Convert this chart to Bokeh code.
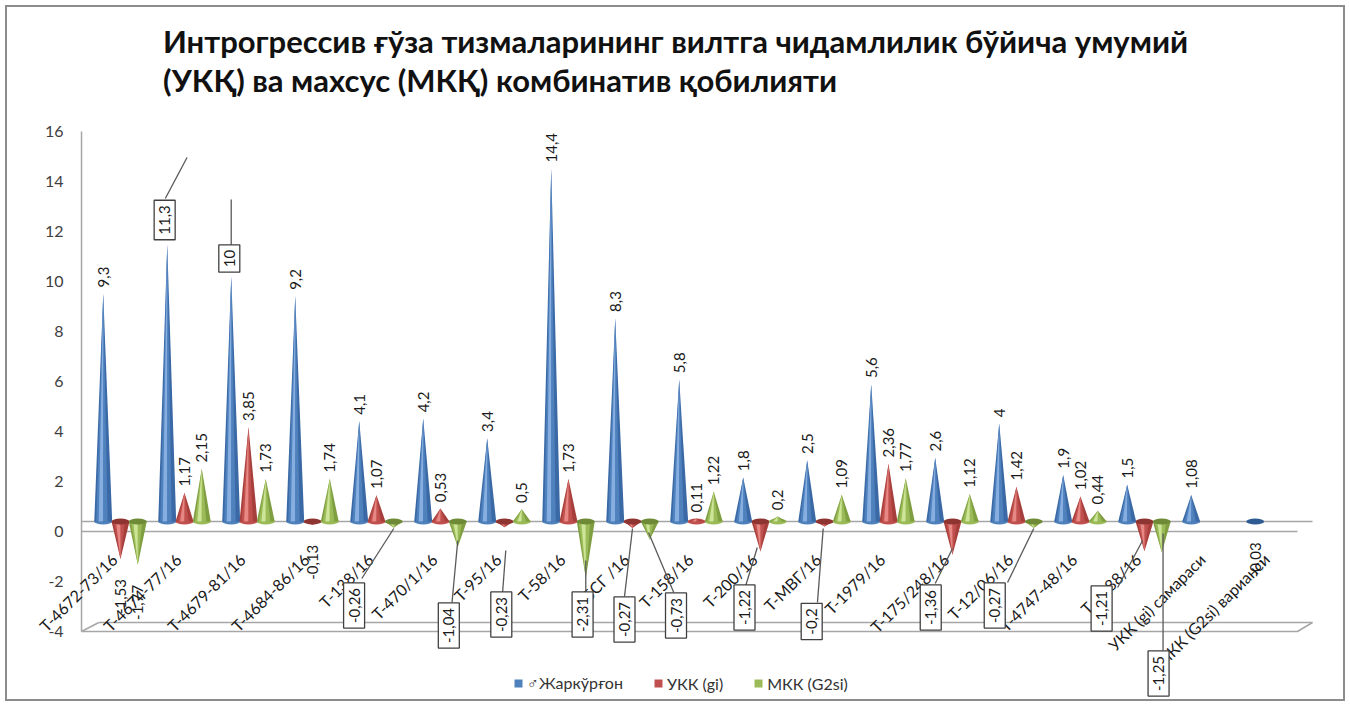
import math

from bokeh.core.properties import value
from bokeh.embed import file_html
from bokeh.models import Legend, LegendItem, Range1d
from bokeh.plotting import figure
from bokeh.resources import INLINE

# ---------------------------------------------------------------- data
categories = [
    "Т-4672-73/16", "Т-4674-77/16", "Т-4679-81/16", "Т-4684-86/16",
    "Т-138/16", "Т-470/1/16", "Т-95/16", "Т-58/16", "БСГ /16",
    "Т-158/16", "Т-200/16", "Т-МВГ/16", "Т-1979/16", "Т-175/248/16",
    "Т-12/06/16", "Т-4747-48/16", "Т-1688/16",
    "УКК (gi) самараси", "МКК (G2si) варианси",
]
zharkurgon = [9.3, 11.3, 10, 9.2, 4.1, 4.2, 3.4, 14.4, 8.3, 5.8, 1.8, 2.5,
              5.6, 2.6, 4, 1.9, 1.5, 1.08, -0.03]
ukk_gi = [-1.53, 1.17, 3.85, -0.13, 1.07, 0.53, -0.23, 1.73, -0.27, 0.11,
          -1.22, -0.2, 2.36, -1.36, 1.42, 1.02, -1.21, None, None]
mkk_g2si = [-1.77, 2.15, 1.73, 1.74, -0.26, -1.04, 0.5, -2.31, -0.73, 1.22,
            0.2, 1.09, 1.77, 1.12, -0.27, 0.44, -1.25, None, None]
series_names = ["♂Жаркўрғон", "УКК (gi)", "МКК (G2si)"]
y_ticks = [-4, -2, 0, 2, 4, 6, 8, 10, 12, 14, 16]

title_text = ("Интрогрессив ғўза тизмаларининг вилтга чидамлилик бўйича умумий\n"
              "(УКҚ) ва махсус (МКҚ) комбинатив қобилияти")

# ---------------------------------------------------------------- styling
FONT = "Lato"
SERIES = [
    # values, x offset inside a group, (dark, mid, light, top face)
    (zharkurgon, -0.27, ("#3A69A6", "#4F81BD", "#86AEE0", "#2F5B93")),
    (ukk_gi, 0.0, ("#A63F3C", "#C0504D", "#E88884", "#8E3431")),
    (mkk_g2si, 0.27, ("#7F9E40", "#9BBB59", "#CDE596", "#6E8A37")),
]
DEPTH = 0.4      # the cones stand on the back plane of the 3-D floor
SCALE = 0.98     # slight perspective shrink of the back plane
HW = 0.14        # half base width of a cone, in category units
EH = 0.24        # height of a cone's base ellipse, in value units
AXIS_X = -0.609  # where the value axis (left wall) stands, in category units
X_FRONT, X_BACK = 18.39, 18.625
FLOOR_DEPTH = 0.36

# value labels drawn in framed boxes with a leader line:
# (series, category, box dx, box y, leader from (dx, y), leader to (dx, y))
callouts = [
    (0, 1, -0.04, 12.46, (-0.03, 13.32), (0.31, 14.96)),
    (0, 2, -0.03, 10.92, (0.0, 11.44), (0.0, 13.28)),
    (2, 4, -0.62, -2.96, (0.0, 0.12), (-0.5, -1.88)),
    (2, 5, -0.14, -3.76, (0.0, -0.36), (-0.09, -2.84)),
    (1, 6, -0.05, -3.32, (0.02, -0.76), (-0.03, -2.44)),
    (2, 7, -0.05, -3.32, (0.0, -1.16), (0.0, -2.4)),
    (1, 8, -0.125, -3.52, (0.0, 0.12), (-0.125, -2.6)),
    (2, 8, 0.41, -3.36, (-0.02, -0.04), (0.375, -2.44)),
    (1, 10, -0.25, -3.04, (-0.05, -0.64), (-0.23, -2.16)),
    (1, 11, -0.2, -3.6, (-0.02, 0.12), (-0.11, -2.84)),
    (1, 13, -0.34, -3.04, (0.0, -0.68), (-0.27, -2.08)),
    (2, 14, -0.61, -2.96, (0.0, 0.12), (-0.41, -2.04)),
    (1, 16, -0.67, -3.08, (-0.03, -0.36), (-0.42, -2.24)),
    (2, 16, -0.05, -5.68, (0.02, -0.08), (0.02, -4.76)),
]


def fmt(v):
    return f"{v:g}".replace(".", ",")


# the plot frame spans the full width so that slanted names may run left
# of the value axis; 64 px per category, 25 px per value unit
p = figure(
    width=1350, height=706,
    x_range=Range1d(-1.875, 19.219), y_range=Range1d(-6.76, 16.92),
    output_backend="svg", toolbar_location=None,
    x_axis_location=None, y_axis_location=None,
    min_border_left=0, min_border_right=0, min_border_top=108,
    min_border_bottom=6,
    styles={"background-color": "white",
            "box-shadow": "inset 0 0 0 5px #ffffff, inset 0 0 0 7px #8C8C8C"},
)
p.outline_line_color = None
p.grid.visible = False
p.background_fill_color = None
p.border_fill_color = None

p.title.text = title_text
p.title.align = "center"
p.title.text_font = FONT
p.title.text_font_size = "31px"
p.title.text_font_style = "bold"
p.title.text_color = "#111111"
p.title.text_line_height = 1.05
p.title.standoff = 18

# ------------------------------------------------- value axis (left wall)
p.line(x=[AXIS_X, AXIS_X], y=[y_ticks[0], y_ticks[-1]],
       line_color="#A6A6A6", line_width=1.5)
p.text(x=[AXIS_X - 0.28] * len(y_ticks), y=y_ticks,
       text=[str(t) for t in y_ticks], text_align="right",
       text_baseline="middle", text_font=value(FONT), text_font_size="16px",
       text_color="#404040")

# ------------------------------------------------- 3-D floor and zero plane
n = len(categories)
y0 = y_ticks[0]
fx = AXIS_X + 0.27
p.multi_line(
    xs=[[AXIS_X, X_FRONT], [AXIS_X, X_BACK],
        [AXIS_X, X_FRONT, X_BACK], [fx, X_BACK], [AXIS_X, fx]],
    ys=[[0, 0], [DEPTH, DEPTH],
        [y0, y0, y0 + FLOOR_DEPTH],
        [y0 + FLOOR_DEPTH, y0 + FLOOR_DEPTH],
        [y0, y0 + FLOOR_DEPTH]],
    line_color="#A6A6A6", line_width=1.5,
)

# ---------------------------------------------------------------- cones
LAYERS = [(-1.0, 1.0), (-0.78, 0.5), (-0.5, -0.02)]
legend_items = []
for s, (vals, off, colors) in enumerate(SERIES):
    dark, mid, light, top = colors
    layer_xs = [[] for _ in LAYERS]
    layer_ys = [[] for _ in LAYERS]
    bx, by, tx, ty = [], [], [], []
    for i, v in enumerate(vals):
        if v is None:
            continue
        x0 = i + off
        tip = DEPTH + SCALE * v
        for k, (a, b) in enumerate(LAYERS):
            layer_xs[k].append([x0 + a * HW, x0 + b * HW, x0])
            layer_ys[k].append([DEPTH, DEPTH, tip])
        if v >= 0:
            bx.append(x0)
            by.append(DEPTH)
        else:
            tx.append(x0)
            ty.append(DEPTH)
    p.ellipse(x=bx, y=by, width=2 * HW, height=EH, fill_color=mid,
              line_color=None)
    rends = []
    for k, col in enumerate((dark, mid, light)):
        rends.append(p.patches(xs=layer_xs[k], ys=layer_ys[k], fill_color=col,
                               line_color=None))
    p.ellipse(x=tx, y=ty, width=2 * HW, height=EH, fill_color=top,
              line_color=None)
    legend_items.append(LegendItem(label=series_names[s], renderers=[rends[1]]))

# ---------------------------------------------------------------- category names
p.text(x=[i - 0.1 for i in range(n)], y=[-1.0] * n, text=categories,
       angle=math.pi / 4, text_align="right", text_baseline="middle",
       text_font=value(FONT), text_font_size="16px", text_color="#1A1A1A")

# ---------------------------------------------------------------- value labels
boxed = {(c[0], c[1]) for c in callouts}
px, py, ptxt = [], [], []
nx, ny, ntxt = [], [], []
for s, (vals, off, _) in enumerate(SERIES):
    for i, v in enumerate(vals):
        if v is None or (s, i) in boxed:
            continue
        if v >= 0:
            px.append(i + off)
            py.append(DEPTH + SCALE * v + 0.25)
            ptxt.append(fmt(v))
        else:
            nx.append(i + off)
            ny.append(SCALE * v - 0.4)
            ntxt.append(fmt(v))

label_style = dict(text_font=value(FONT), text_font_size="15px",
                   text_color="#1A1A1A", angle=math.pi / 2,
                   text_baseline="middle")
p.text(x=px, y=py, text=ptxt, text_align="left", **label_style)
p.text(x=nx, y=ny, text=ntxt, text_align="right", **label_style)

# boxed labels with leader lines
cx, cy, ctxt, lxs, lys = [], [], [], [], []
for s, i, dx, yb, (fx_, fy_), (tx_, ty_) in callouts:
    vals, off, _ = SERIES[s]
    x0 = i + off
    cx.append(x0 + dx)
    cy.append(yb)
    ctxt.append(fmt(vals[i]))
    lxs.append([x0 + fx_, x0 + tx_])
    lys.append([fy_, ty_])
p.multi_line(xs=lxs, ys=lys, line_color="#595959", line_width=1.3)
p.text(x=cx, y=cy, text=ctxt, text_align="center",
       background_fill_color="white", border_line_color="#404040",
       border_line_width=1.3, padding=5, **label_style)

# ---------------------------------------------------------------- legend
legend = Legend(items=legend_items, location=(513, 7), orientation="horizontal",
                glyph_width=10, glyph_height=10, label_standoff=4, spacing=30,
                padding=0, margin=0, border_line_color=None,
                background_fill_alpha=0, label_text_font=FONT,
                label_text_font_size="16px", label_text_color="#333333")
p.add_layout(legend)

open("out.html", "w").write(file_html(p, INLINE))
